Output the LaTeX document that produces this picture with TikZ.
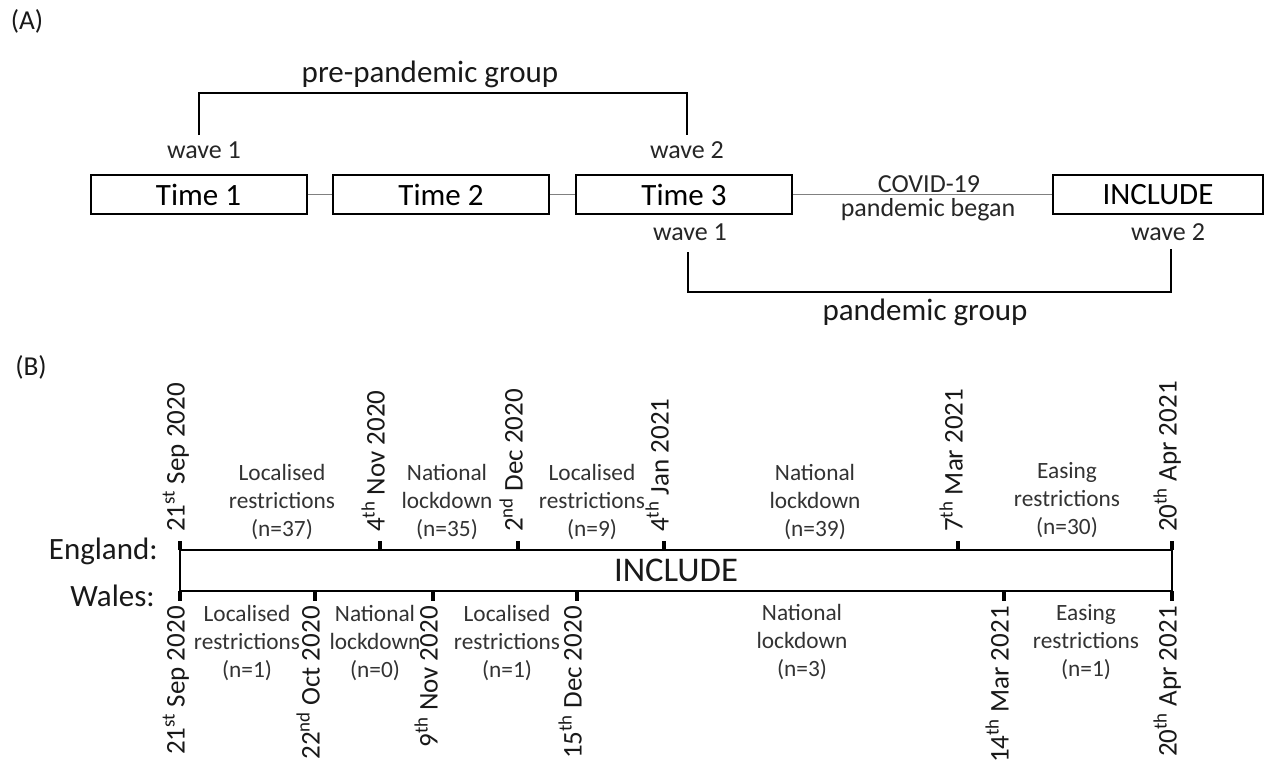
\documentclass[tikz,border=0pt]{standalone}
\usepackage{fontspec}
\setmainfont{Carlito}
\begin{document}
\begin{tikzpicture}[x=0.75pt,y=-0.75pt,
  tbox/.style={draw=black, line width=1.5pt, minimum width=216*0.75pt, minimum height=39*0.75pt, inner sep=0pt, font=\fontsize{23.25}{28}\selectfont},
  conn/.style={draw=black!50, line width=1.1pt},
  br/.style={draw=black, line width=1.5pt},
  lbl/.style={inner sep=0pt, text=black!85, font=\fontsize{19.5}{24}\selectfont},
  grp/.style={inner sep=0pt, text=black!90, font=\fontsize{23.25}{28}\selectfont},
  panel/.style={inner sep=0pt, text=black!90, font=\fontsize{20.5}{24}\selectfont},
  period/.style={align=center, inner sep=0pt, text=black!80, font=\fontsize{17.5}{21}\selectfont},
  datelbl/.style={rotate=90, inner sep=0pt, text=black!90, text height=0.7em, text depth=0pt, font=\fontsize{20.25}{24}\selectfont},
  tick/.style={line width=2.6pt},
]
\useasboundingbox (0,0) rectangle (1280,764);
\fill[white] (0,0) rectangle (1280,764);

% ---------- Panel A ----------
\node[panel] (labA) at (27,21) {(A)};
\node[tbox] (t1) at (198.5,194.5) {Time 1};
\node[tbox] (t2) at (441,194.5) {Time 2};
\node[tbox] (t3) at (684,194.5) {Time 3};
\node[tbox, minimum width=210*0.75pt] (inc) at (1158,194.5) {INCLUDE};
\draw[conn] (t1) -- (t2);
\draw[conn] (t2) -- (t3);
\draw[conn] (t3) -- (inc);
\node[lbl, anchor=base] (cov) at (929,192) {COVID-19};
\node[lbl, anchor=base] (pb) at (928,216) {pandemic began};
\node[lbl, anchor=base] (w1a) at (204,158) {wave 1};
\node[lbl, anchor=base] (w2a) at (687,158) {wave 2};
\node[lbl, anchor=base] (w1b) at (690,240) {wave 1};
\node[lbl, anchor=base] (w2b) at (1168,240) {wave 2};
\coordinate (p1) at (199,135);
\coordinate (p2) at (687,135);
\coordinate (ptop) at (0,93);
\draw[br] (p1) -- (p1 |- ptop) -- (p2 |- ptop) -- (p2);
\node[grp, anchor=base] (pre) at (430,82) {pre-pandemic group};
\coordinate (q1) at (688,252);
\coordinate (q2) at (1171,249);
\coordinate (qbot) at (0,292);
\draw[br] (q1) -- (q1 |- qbot) -- (q2 |- qbot) -- (q2);
\node[grp, anchor=base] (pg) at (925,320) {pandemic group};

% ---------- Panel B ----------
\node[panel] (labB) at (31,367) {(B)};
\node[draw=black, line width=1.6pt, minimum width=992*0.75pt, minimum height=41*0.75pt, inner sep=0pt, text=black!90, font=\fontsize{26}{30}\selectfont] (inc2) at (676,570.5) {INCLUDE};
\node[grp, anchor=base east] (eng) at (158,559) {England:};
\node[grp, anchor=base east] (wal) at (155,606) {Wales:};

% England ticks and dates
\foreach \x/\d [count=\i] in {180/{21\textsuperscript{st} Sep 2020},380/{4\textsuperscript{th} Nov 2020},518/{2\textsuperscript{nd} Dec 2020},664/{4\textsuperscript{th} Jan 2021},958/{7\textsuperscript{th} Mar 2021},1172/{20\textsuperscript{th} Apr 2021}}{
  \coordinate (e\i) at (\x,550);
  \draw[tick] (e\i) -- ++(0,-9);
  \node[datelbl, anchor=west] (ed\i) at (\x,532) {\d};
}
% Wales ticks and dates
\foreach \x/\d [count=\i] in {180/{21\textsuperscript{st} Sep 2020},315/{22\textsuperscript{nd} Oct 2020},433/{9\textsuperscript{th} Nov 2020},577/{15\textsuperscript{th} Dec 2020},1004/{14\textsuperscript{th} Mar 2021},1172/{20\textsuperscript{th} Apr 2021}}{
  \coordinate (w\i) at (\x,591);
  \draw[tick] (w\i) -- ++(0,10);
  \node[datelbl, anchor=east] (wd\i) at (\x,606) {\d};
}

% England periods
\node[period] (ep1) at (282,502) {Localised\\restrictions\\(n=37)};
\node[period] (ep2) at (447,502) {National\\lockdown\\(n=35)};
\node[period] (ep3) at (592,502) {Localised\\restrictions\\(n=9)};
\node[period] (ep4) at (815,502) {National\\lockdown\\(n=39)};
\node[period] (ep5) at (1067,500) {Easing\\restrictions\\(n=30)};
% Wales periods
\node[period] (wp1) at (247,643) {Localised\\restrictions\\(n=1)};
\node[period] (wp2) at (375,643) {National\\lockdown\\(n=0)};
\node[period] (wp3) at (507,643) {Localised\\restrictions\\(n=1)};
\node[period] (wp4) at (802,642) {National\\lockdown\\(n=3)};
\node[period] (wp5) at (1086,642) {Easing\\restrictions\\(n=1)};
\end{tikzpicture}
\end{document}
